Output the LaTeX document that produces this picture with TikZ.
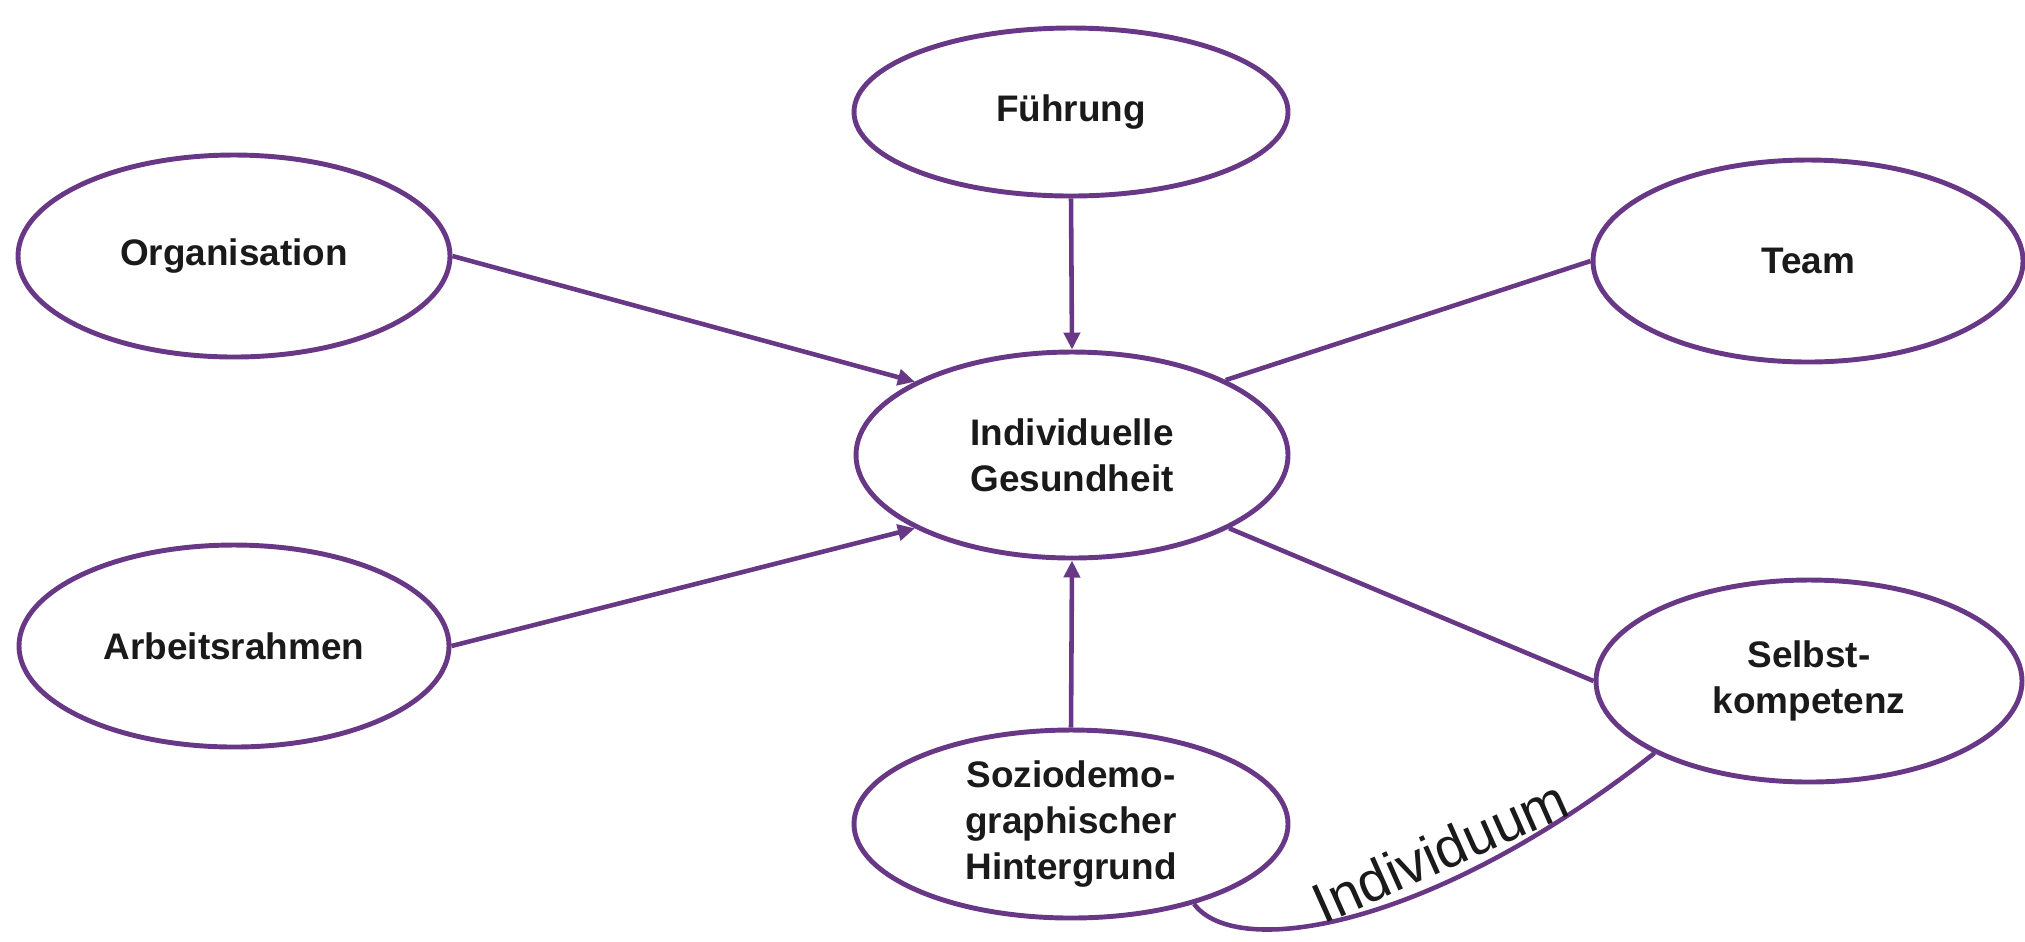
\documentclass[tikz,border=0pt]{standalone}
\usepackage{fontspec}
\setmainfont{Liberation Sans}
\usetikzlibrary{shapes.geometric, arrows.meta}

\definecolor{lila}{RGB}{104,56,134}
\definecolor{schrift}{RGB}{26,26,26}

\tikzset{
  bubble/.style={ellipse, draw=lila, line width=1.4pt, fill=white, inner sep=0pt,
    align=center, text=schrift, font=\fontsize{10.5}{13}\selectfont\bfseries},
  link/.style={draw=lila, line width=1.3pt},
  pfeil/.style={link, -{Triangle[length=0.17cm, width=0.16cm]}}
}

\begin{document}
\begin{tikzpicture}[x=0.01cm, y=-0.01cm]
    \useasboundingbox (0,0) rectangle (2025,941);

    % ellipses
    \node [bubble, minimum width=434*0.01cm, minimum height=168*0.01cm] (fuehrung) at (1071,112) {Führung};
    \node [bubble, minimum width=432*0.01cm, minimum height=202*0.01cm] (orga)   at (234,256)  {Organisation};
    \node [bubble, minimum width=430*0.01cm, minimum height=202*0.01cm] (team)   at (1808,261) {Team};
    \node [bubble, minimum width=432*0.01cm, minimum height=206*0.01cm] (gesund) at (1072,455) {Individuelle\\Gesundheit};
    \node [bubble, minimum width=430*0.01cm, minimum height=202*0.01cm] (arbeit) at (234,646)  {Arbeitsrahmen};
    \node [bubble, minimum width=426*0.01cm, minimum height=202*0.01cm] (selbst) at (1809,681) {Selbst-\\kompetenz};
    \node [bubble, minimum width=434*0.01cm, minimum height=188*0.01cm] (sozio)  at (1071,824) {Soziodemo-\\graphischer\\Hintergrund};

    % arrows to the middle
    \draw [pfeil] (fuehrung.south) -- (gesund.north);
    \draw [pfeil] (orga.east) -- (gesund.155);
    \draw [pfeil] (arbeit.east) -- (gesund.205);
    \draw [pfeil] (sozio.north) -- (gesund.south);
    \draw [link] (team.west) -- (gesund.26);
    \draw [link] (selbst.west) -- (gesund.-25);

    % individuum
    \draw [link] (sozio.-33) .. controls (1235,960) and (1430,930) .. (selbst.205);
    \node [text=schrift, font=\fontsize{16}{19}\selectfont, rotate=24] (indiv) at (1440,851) {Individuum};
\end{tikzpicture}
\end{document}
